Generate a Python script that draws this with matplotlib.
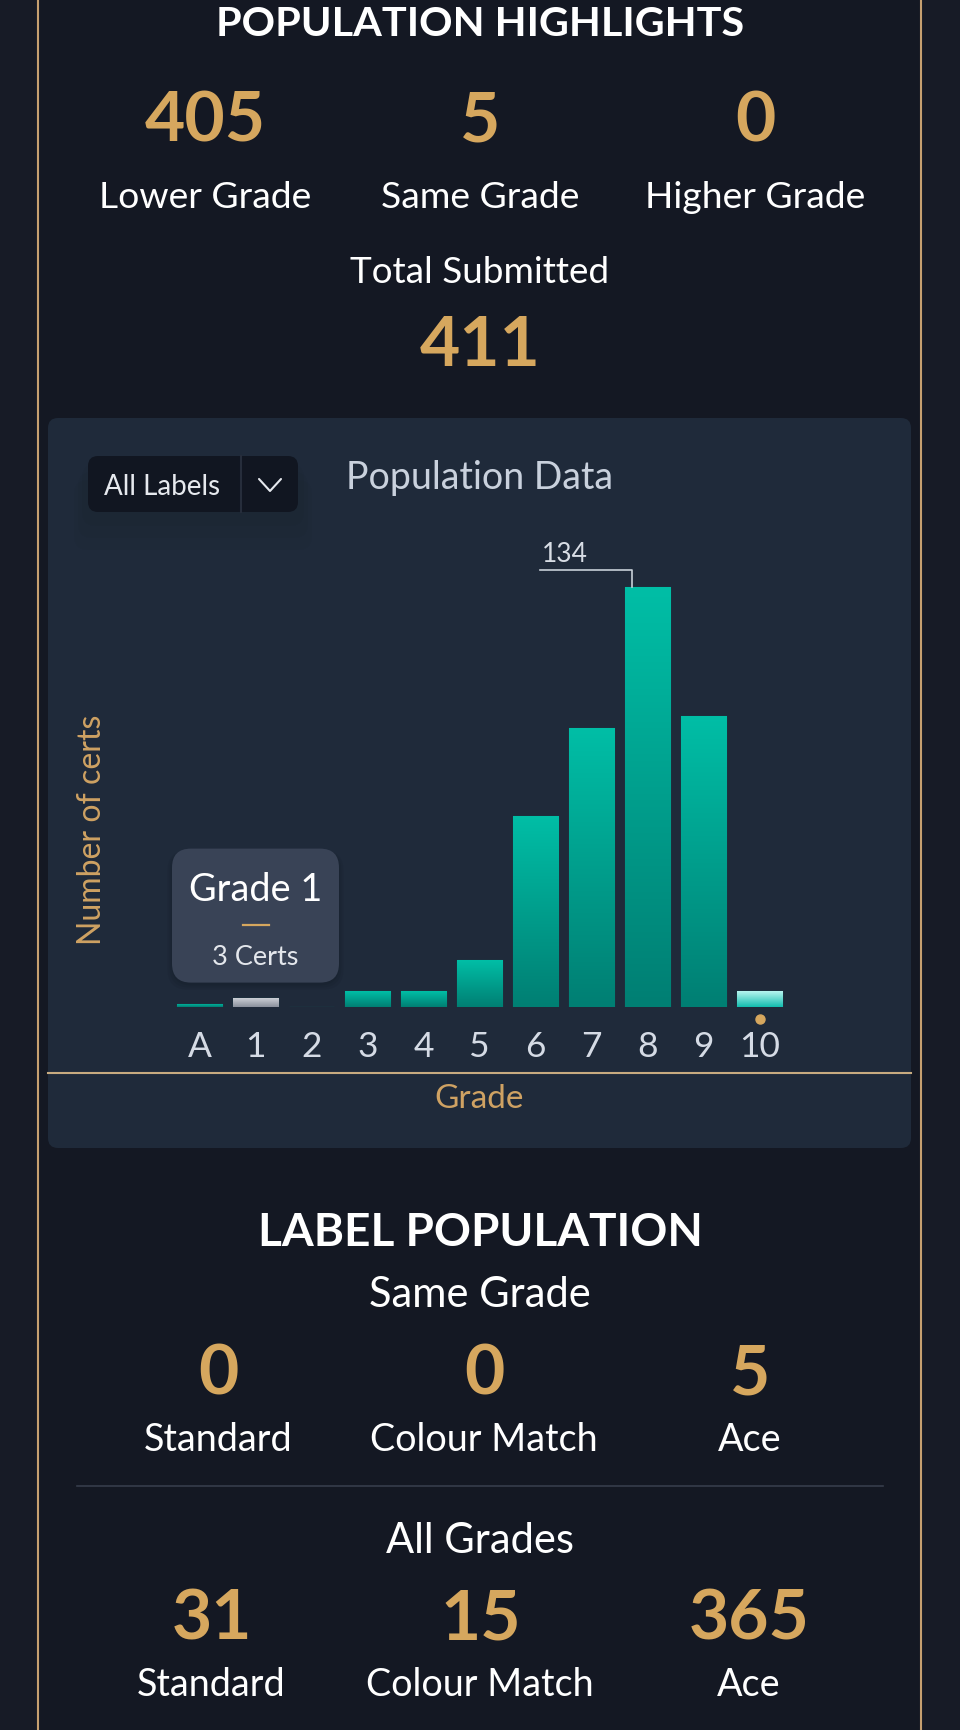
import numpy as np
import matplotlib
matplotlib.use('Agg')
import matplotlib.pyplot as plt
from matplotlib.patches import FancyBboxPatch
from matplotlib.lines import Line2D
from matplotlib.colors import LinearSegmentedColormap
from matplotlib.transforms import IdentityTransform, offset_copy

plt.rcParams['font.family'] = ['Lato', 'DejaVu Sans']

W, H = 960, 1730

# chart data
grades = ['A', '1', '2', '3', '4', '5', '6', '7', '8', '9', '10']
certs = [1, 3, 0, 5, 5, 15, 61, 89, 134, 93, 5]
hover_idx = 1       # bar under the tooltip
selected_idx = 10   # grade of this card

highlight_values = [405, 5, 0]
highlight_labels = ['Lower Grade', 'Same Grade', 'Higher Grade']
total_submitted = 411

label_types = ['Standard', 'Colour Match', 'Ace']
same_grade_values = [0, 0, 5]
all_grade_values = [31, 15, 365]

# colours
OUTER = '#171b26'
BG = '#141823'
PANEL = '#1f2a3a'
GOLD = '#d6a75e'
GOLD_LINE = '#c6a070'
AXIS_GOLD = '#cfa263'
TICK = '#d5dbe5'

fig = plt.figure(figsize=(W / 100, H / 100), dpi=100, facecolor=OUTER)
PX = IdentityTransform()


def fx(x):
    return x / W


def fy(y):
    return 1 - y / H


def txt(x, y, s, size, color='white', weight='normal', ha='center', va='baseline', z=3, **kw):
    fig.text(fx(x), fy(y), s, fontsize=size, color=color, fontweight=weight,
             ha=ha, va=va, zorder=z, **kw)


def rrect(x0, y0, x1, y1, r, color, z=0.5, **kw):
    p = FancyBboxPatch((x0, H - y1), x1 - x0, y1 - y0,
                       boxstyle='round,pad=0,rounding_size=%g' % r,
                       transform=PX, facecolor=color, edgecolor='none', zorder=z, **kw)
    fig.add_artist(p)
    return p


def hline(x0, x1, y, color, lw, z=1, **kw):
    fig.add_artist(Line2D([x0, x1], [H - y, H - y], transform=PX, color=color, lw=lw,
                          zorder=z, **kw))


def vline(x, y0, y1, color, lw, z=1, **kw):
    fig.add_artist(Line2D([x, x], [H - y0, H - y1], transform=PX, color=color, lw=lw,
                          zorder=z, **kw))


# page background and gold frame lines
fig.add_artist(plt.Rectangle((38, 0), 883, H, transform=PX, facecolor=BG, edgecolor='none',
                             zorder=0.1))
vline(38, 0, H, GOLD_LINE, 1.5)
vline(921, 0, H, GOLD_LINE, 1.5)

# population highlights
txt(480, 36, 'POPULATION HIGHLIGHTS', 29.8, weight='bold')
cols = [205, 480, 755]
for x, v, lab in zip(cols, highlight_values, highlight_labels):
    txt(x, 142, str(v), 50, color=GOLD, weight='bold')
    txt(x, 208, lab, 26.8)
txt(480, 283, 'Total Submitted', 26.6)
txt(480, 366, str(total_submitted), 50, color=GOLD, weight='bold')

# chart panel
rrect(48, 418, 911, 1148, 10, PANEL, z=0.3)

# dropdown with soft shadow
for i in range(3):
    rrect(82 - 4 * i, 464 + 8 * i, 304 + 4 * i, 526 + 12 * i, 14, '#0a0e16', z=0.4, alpha=0.03)
rrect(88, 456, 298, 512, 10, '#111621')
vline(241, 456, 512, '#262d3b', 1.5)
txt(162, 495, 'All Labels', 20, color='#e6e9ee')
fig.add_artist(Line2D([259, 270, 281], [H - 479, H - 491, H - 479], transform=PX,
                      color='#e6e9ee', lw=1.5, solid_capstyle='round', zorder=2))
txt(480, 489, 'Population Data', 27, color='#c9d1dd')

# bar chart
ax = fig.add_axes([fx(171.5), fy(1007), 616 / W, 470 / H])
ax.set_zorder(2)
ax.set_facecolor('none')
x = np.arange(len(grades))
bars = ax.bar(x, certs, width=0.82, color='#00a592', edgecolor='#008c7e', linewidth=0.8,
              zorder=1)

cm_teal = LinearSegmentedColormap.from_list('teal', ['#007f73', '#00bea6'])
cm_hover = LinearSegmentedColormap.from_list('hover', ['#8a909c', '#d3d6dc'])
cm_sel = LinearSegmentedColormap.from_list('sel', ['#12bcae', '#b8f5ef'])
grad = np.linspace(1, 0, 128).reshape(-1, 1)
for i, b in enumerate(bars):
    if b.get_height() <= 0:
        continue
    cmap = cm_teal
    if i == hover_idx:
        cmap = cm_hover
    elif i == selected_idx:
        cmap = cm_sel
    im = ax.imshow(grad, extent=[b.get_x(), b.get_x() + b.get_width(), 0, b.get_height()],
                   origin='upper', aspect='auto', cmap=cmap, vmin=0, vmax=1, zorder=2)
    im.set_clip_path(b)

ax.set_xlim(-0.5, len(grades) - 0.5)
ax.set_ylim(0, 150)
for s in ax.spines.values():
    s.set_visible(False)
ax.set_yticks([])
ax.set_xticks(x, grades)
ax.tick_params(axis='x', length=0, pad=17, labelsize=25.5, labelcolor=TICK)
ax.set_ylabel('Number of certs', fontsize=23, color=AXIS_GOLD, va='center')
ax.yaxis.set_label_coords((92 - 171.5) / 616, (1007 - 830) / 470)
ax.set_xlabel('Grade', fontsize=24, color=AXIS_GOLD)
ax.xaxis.set_label_coords(0.5, (1007 - 1084) / 470)

# dot under the selected grade
ax.plot(selected_idx, 0, 'o', color=GOLD, ms=6.5, clip_on=False,
        transform=offset_copy(ax.transData, fig=fig, y=-12, units='dots'))

# max value callout
ppu = 470 / 150
imax = int(np.argmax(certs))
vmax = certs[imax]
xv = imax - 0.275
ax.plot([xv, xv, imax - 1.92], [vmax, vmax + 17 / ppu, vmax + 17 / ppu],
        color='#c8d0d8', lw=1.2, clip_on=False)
ax.text(imax - 1.475, vmax + 25 / ppu, str(vmax), fontsize=19, color='#d8dde5',
        ha='center', va='baseline')

# tooltip over the hovered bar
bx, by = ax.transData.transform((hover_idx, certs[hover_idx]))
top_px = H - by
cx = bx
t_bot = top_px - 15
t_top = t_bot - 134
for k in range(3):
    rrect(cx - 84 - 2 * k, t_top + 2, cx + 84 + 2 * k, t_bot + 3 + 2 * k, 20, '#0c1018',
          z=5, alpha=0.08)
rrect(cx - 83.5, t_top, cx + 83.5, t_bot, 19, '#394356', z=6)
txt(cx, t_top + 52, 'Grade %s' % grades[hover_idx], 27.3, z=7)
hline(cx - 13, cx + 13, t_top + 76, GOLD, 1.6, z=7)
txt(cx, t_top + 116, '%d Certs' % certs[hover_idx], 19.5, color='#e4e7ec', z=7)

# panel divider and axis line
hline(48, 911, 1073, '#c8ab80', 1.5)

# label population
txt(480, 1246, 'LABEL POPULATION', 33, weight='bold')
txt(480, 1307, 'Same Grade', 30)
for xx, v in zip([218, 484, 750], same_grade_values):
    txt(xx, 1394.5, str(v), 50, color=GOLD, weight='bold')
for xx, lab in zip([218, 484, 750], label_types):
    txt(xx, 1451, lab, 27.2)
hline(76.5, 883, 1485.5, '#363d4b', 1.2)
txt(480, 1553, 'All Grades', 30)
for xx, v in zip([212, 481, 749], all_grade_values):
    txt(xx, 1640, str(v), 50, color=GOLD, weight='bold')
for xx, lab in zip([211, 480, 749], label_types):
    txt(xx, 1696, lab, 27.2)

fig.savefig('out.png', dpi=100, facecolor=fig.get_facecolor())
